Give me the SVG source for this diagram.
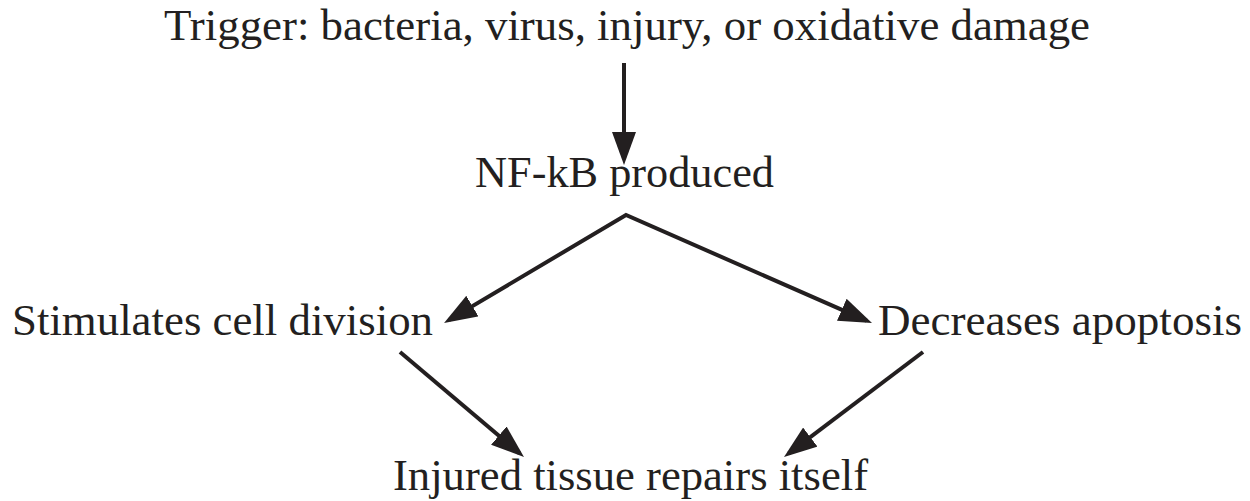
<svg xmlns="http://www.w3.org/2000/svg" width="1250" height="501" viewBox="0 0 1250 501">
  <defs>
    <style>
      .lbl { font-family: "Liberation Serif", "Times New Roman", serif; font-size: 45px; fill: #231f20; }
      .conn { fill: none; stroke: #231f20; stroke-width: 4; stroke-linejoin: miter; }
    </style>
    <marker id="ah" markerUnits="userSpaceOnUse" markerWidth="33" markerHeight="24" refX="27" refY="12" orient="auto-start-reverse" viewBox="0 0 33 24">
      <path d="M0,0 L33,12 L0,24 z" fill="#231f20"/>
    </marker>
  </defs>
  <rect width="1250" height="501" fill="#ffffff"/>
  <g id="connectors">
    <line class="conn" x1="624" y1="63" x2="624" y2="159" marker-end="url(#ah)"/>
    <polyline class="conn" points="449.2,319.9 626,215 866.5,320.6" marker-start="url(#ah)" marker-end="url(#ah)"/>
    <line class="conn" x1="400" y1="352" x2="519.4" y2="453.1" marker-end="url(#ah)"/>
    <line class="conn" x1="923" y1="352" x2="788.8" y2="453.4" marker-end="url(#ah)"/>
  </g>
  <g id="trigger">
    <text class="lbl" x="164" y="40" textLength="926" lengthAdjust="spacingAndGlyphs">Trigger: bacteria, virus, injury, or oxidative damage</text>
  </g>
  <g id="nfkb">
    <text class="lbl" x="475" y="187" textLength="299" lengthAdjust="spacingAndGlyphs">NF-kB produced</text>
  </g>
  <g id="division">
    <text class="lbl" x="12" y="335" textLength="421" lengthAdjust="spacingAndGlyphs">Stimulates cell division</text>
  </g>
  <g id="apoptosis">
    <text class="lbl" x="878" y="335" textLength="364" lengthAdjust="spacingAndGlyphs">Decreases apoptosis</text>
  </g>
  <g id="repair">
    <text class="lbl" x="393" y="490" textLength="475" lengthAdjust="spacingAndGlyphs">Injured tissue repairs itself</text>
  </g>
</svg>
